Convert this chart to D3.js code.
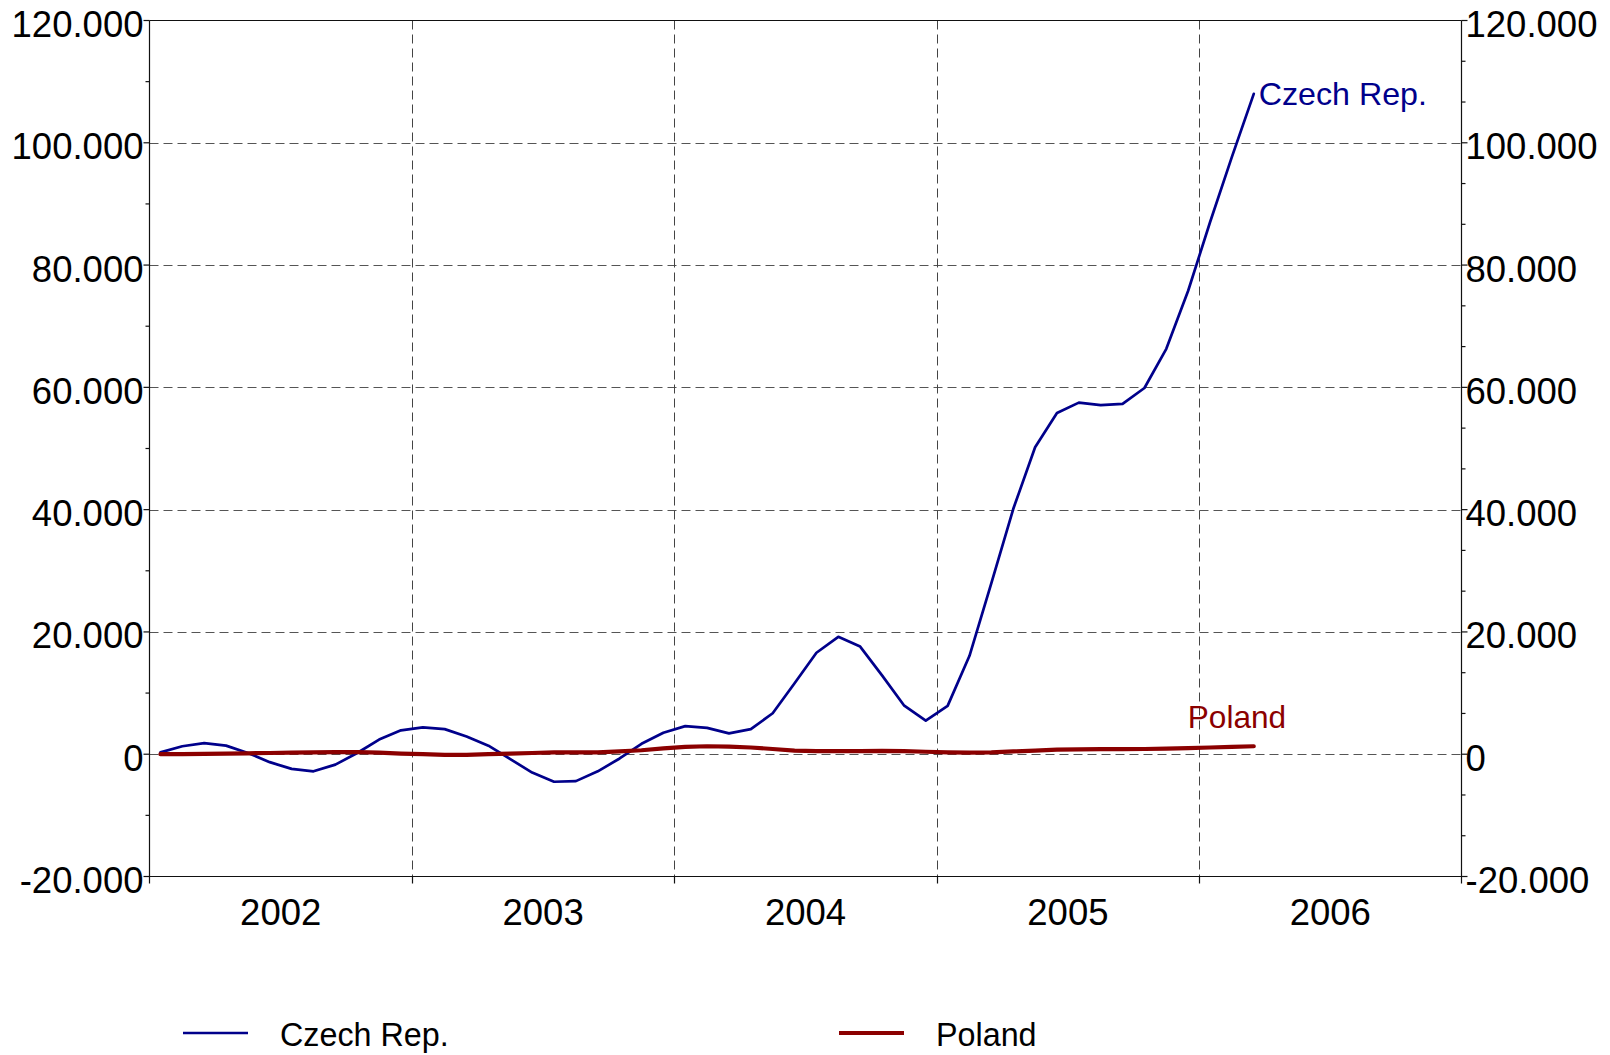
<!DOCTYPE html>
<html>
<head>
<meta charset="utf-8">
<script src="https://cdn.jsdelivr.net/npm/d3@7"></script>
<style>
  html, body { margin: 0; padding: 0; background: #fff; }
  svg { display: block; font-family: "Liberation Sans", Arial, sans-serif; }
</style>
</head>
<body>
<svg id="chart" width="1610" height="1055"></svg>
<script>
// ---- data ----
const months = [
  "2002-01","2002-02","2002-03","2002-04","2002-05","2002-06","2002-07","2002-08","2002-09","2002-10","2002-11","2002-12",
  "2003-01","2003-02","2003-03","2003-04","2003-05","2003-06","2003-07","2003-08","2003-09","2003-10","2003-11","2003-12",
  "2004-01","2004-02","2004-03","2004-04","2004-05","2004-06","2004-07","2004-08","2004-09","2004-10","2004-11","2004-12",
  "2005-01","2005-02","2005-03","2005-04","2005-05","2005-06","2005-07","2005-08","2005-09","2005-10","2005-11","2005-12",
  "2006-01","2006-02","2006-03"
];
const czech = [
  0.3, 1.3, 1.8, 1.4, 0.2, -1.3, -2.4, -2.8, -1.7, 0.2, 2.4, 3.9,
  4.4, 4.1, 2.9, 1.4, -0.8, -3.0, -4.5, -4.4, -2.8, -0.7, 1.7, 3.5,
  4.6, 4.3, 3.4, 4.1, 6.7, 11.6, 16.6, 19.2, 17.6, 12.9, 8.0, 5.5,
  7.9, 16.1, 28.0, 40.1, 50.2, 55.8, 57.5, 57.1, 57.3, 59.9, 66.3, 75.8,
  87.0, 97.7, 108.0
];
const poland = [
  0.0, 0.0, 0.05, 0.1, 0.15, 0.2, 0.25, 0.3, 0.35, 0.35, 0.25, 0.1,
  0.0, -0.1, -0.1, 0.0, 0.1, 0.2, 0.3, 0.3, 0.3, 0.45, 0.65, 0.95,
  1.2, 1.3, 1.25, 1.1, 0.85, 0.6, 0.5, 0.5, 0.5, 0.55, 0.5, 0.4,
  0.3, 0.25, 0.3, 0.45, 0.6, 0.75, 0.8, 0.82, 0.82, 0.85, 0.9, 1.0,
  1.1, 1.2, 1.3
];
const seriesNames = ["Czech Rep.", "Poland"];
const seriesColors = ["#00008B", "#8B0000"];
const yearLabels = ["2002", "2003", "2004", "2005", "2006"];
const yTickValues = [-20, 0, 20, 40, 60, 80, 100, 120];

// ---- layout ----
const L = 149.5, R = 1461.5, T = 20.5, B = 876.5;
const svg = d3.select("#chart");

const monthIndex = s => { const [yy, m] = s.split("-").map(Number); return (yy - 2002) * 12 + (m - 1) + 0.5; };
const x = d3.scaleLinear().domain([0, yearLabels.length * 12]).range([L, R]);
const y = d3.scaleLinear().domain([-20, 120]).range([B, T]);

const label = v => v === 0 ? "0" : v + ".000";

// gridlines horizontal
const gridH = yTickValues.filter(v => v > -20 && v < 120);
svg.append("g").selectAll("line").data(gridH).join("line")
  .attr("x1", L).attr("x2", R)
  .attr("y1", d => Math.round(y(d)) + 0.5).attr("y2", d => Math.round(y(d)) + 0.5)
  .attr("stroke", "#555").attr("stroke-width", 1).attr("stroke-dasharray", "9,5");

// gridlines vertical at year boundaries
const yearBounds = d3.range(1, yearLabels.length).map(i => i * 12);
svg.append("g").selectAll("line").data(yearBounds).join("line")
  .attr("x1", d => Math.round(x(d)) + 0.5).attr("x2", d => Math.round(x(d)) + 0.5)
  .attr("y1", T).attr("y2", B)
  .attr("stroke", "#444").attr("stroke-width", 1).attr("stroke-dasharray", "9,5");

// frame
const frame = svg.append("g").attr("stroke", "#111").attr("stroke-width", 1.2);
frame.append("line").attr("x1", L).attr("x2", R).attr("y1", T).attr("y2", T);
frame.append("line").attr("x1", L).attr("x2", R).attr("y1", B).attr("y2", B);
frame.append("line").attr("x1", L).attr("x2", L).attr("y1", T).attr("y2", B + 7);
frame.append("line").attr("x1", R).attr("x2", R).attr("y1", T).attr("y2", B + 7);

// x ticks at year boundaries
frame.selectAll("line.xt").data(yearBounds).join("line").attr("class", "xt")
  .attr("x1", d => Math.round(x(d)) + 0.5).attr("x2", d => Math.round(x(d)) + 0.5)
  .attr("y1", B).attr("y2", B + 7);

// left axis ticks
frame.selectAll("line.lt").data(yTickValues).join("line").attr("class", "lt")
  .attr("x1", L - 6).attr("x2", L).attr("y1", d => y(d)).attr("y2", d => y(d));
const leftMinor = d3.range(-20, 120, 20).map(v => v + 10);
frame.selectAll("line.lm").data(leftMinor).join("line").attr("class", "lm")
  .attr("x1", L - 4).attr("x2", L).attr("y1", d => y(d)).attr("y2", d => y(d));
// right axis ticks
frame.selectAll("line.rt").data(yTickValues).join("line").attr("class", "rt")
  .attr("x1", R).attr("x2", R + 6).attr("y1", d => y(d)).attr("y2", d => y(d));
const rightMinor = [];
d3.range(-20, 120, 20).forEach(v => { rightMinor.push(v + 20 / 3, v + 40 / 3); });
frame.selectAll("line.rm").data(rightMinor).join("line").attr("class", "rm")
  .attr("x1", R).attr("x2", R + 4).attr("y1", d => y(d)).attr("y2", d => y(d));

// y labels
svg.append("g").selectAll("text").data(yTickValues).join("text")
  .attr("x", L - 6).attr("y", d => y(d) + 16.5)
  .attr("text-anchor", "end").attr("font-size", 36.5).attr("fill", "#000")
  .text(label);
svg.append("g").selectAll("text").data(yTickValues).join("text")
  .attr("x", R + 4).attr("y", d => y(d) + 16.5)
  .attr("text-anchor", "start").attr("font-size", 36.5).attr("fill", "#000")
  .text(label);

// year labels
svg.append("g").selectAll("text").data(yearLabels).join("text")
  .attr("x", (d, i) => x(i * 12 + 6)).attr("y", 925)
  .attr("text-anchor", "middle").attr("font-size", 36.5).attr("fill", "#000")
  .text(d => d);

// lines
const line = d3.line().x((d, i) => x(monthIndex(months[i]))).y(d => y(d));
svg.append("path").datum(czech).attr("d", line)
  .attr("fill", "none").attr("stroke", seriesColors[0]).attr("stroke-width", 2.7)
  .attr("stroke-linejoin", "round").attr("stroke-linecap", "round");
svg.append("path").datum(poland).attr("d", line)
  .attr("fill", "none").attr("stroke", seriesColors[1]).attr("stroke-width", 4.2)
  .attr("stroke-linejoin", "round").attr("stroke-linecap", "round");

// end labels
const last = months.length - 1;
svg.append("text").attr("x", x(monthIndex(months[last])) + 5).attr("y", 105)
  .attr("font-size", 32.2).attr("fill", seriesColors[0]).text(seriesNames[0]);
svg.append("text").attr("x", x(monthIndex(months[last])) - 66).attr("y", 728)
  .attr("font-size", 31.6).attr("fill", seriesColors[1]).text(seriesNames[1]);

// legend
const legendX = [183, 839];
const legendW = [2.7, 4.2];
seriesNames.forEach((n, i) => {
  svg.append("line").attr("x1", legendX[i]).attr("x2", legendX[i] + 65)
    .attr("y1", 1033).attr("y2", 1033)
    .attr("stroke", seriesColors[i]).attr("stroke-width", legendW[i]);
  svg.append("text").attr("x", legendX[i] + 97).attr("y", 1046)
    .attr("font-size", 32.3).attr("fill", "#000").text(n);
});
</script>
</body>
</html>
